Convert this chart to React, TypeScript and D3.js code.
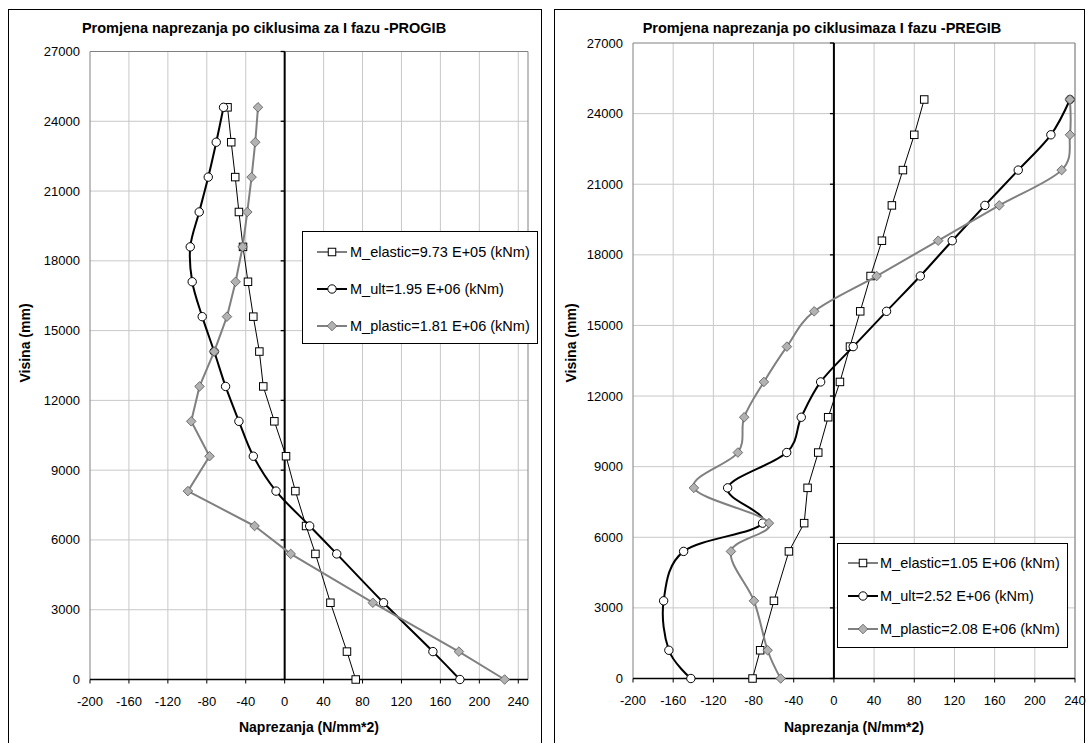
import React from 'react';
import * as d3 from 'd3';

// ---- data ----
const heights = [0, 1200, 3300, 5400, 6600, 8100, 9600, 11100, 12600, 14100, 15600, 17100, 18600, 20100, 21600, 23100, 24600];
const xTicks = [-200, -160, -120, -80, -40, 0, 40, 80, 120, 160, 200, 240];
const yTicks = [0, 3000, 6000, 9000, 12000, 15000, 18000, 21000, 24000, 27000];

const progibElastic = [73, 64, 47, 31.6, 22, 11, 1.4, -10.6, -22, -26, -32.2, -37.7, -42.8, -47, -50.8, -54.9, -58.7];
const progibUlt = [180, 152.3, 101.6, 53.5, 25.7, -8.9, -32.2, -47, -60.7, -72.4, -84.7, -95, -97, -87.8, -78.5, -70.3, -62.8];
const progibPlastic = [226, 179, 90.6, 6.2, -30.9, -99.4, -77.2, -96, -87.5, -72.4, -59.3, -50.4, -43.2, -38.4, -34, -30.2, -27.4];

const pregibElastic = [-81, -73.4, -59.7, -44.8, -29.6, -26.2, -15.6, -5.7, 6, 16, 26.2, 36.5, 47.8, 57.7, 68.7, 80, 89.9];
const pregibUlt = [-142.4, -164.3, -169.5, -149.6, -71, -105.8, -47, -32.5, -13.2, 19.2, 52.4, 86, 117.8, 150.3, 183.5, 216, 235];
const pregibPlastic = [-53, -66, -79.6, -102.5, -64.7, -139.4, -95.6, -89.3, -69.7, -46.8, -19.6, 42.5, 103.8, 164.6, 226.7, 235, 235];

const progibLegend = ['M_elastic=9.73 E+05 (kNm)', 'M_ult=1.95 E+06 (kNm)', 'M_plastic=1.81 E+06 (kNm)'];
const pregibLegend = ['M_elastic=1.05 E+06 (kNm)', 'M_ult=2.52 E+06 (kNm)', 'M_plastic=2.08 E+06 (kNm)'];

const FONT = '"Liberation Sans", Arial, sans-serif';

type Kind = 'square' | 'circle' | 'diamond';

function Marker({ kind, x, y }: { kind: Kind; x: number; y: number }) {
  if (kind === 'square') {
    return <rect x={x - 3.75} y={y - 3.75} width={7.5} height={7.5} fill="#fff" stroke="#000" strokeWidth={1} />;
  }
  if (kind === 'circle') {
    return <circle cx={x} cy={y} r={4.2} fill="#fff" stroke="#000" strokeWidth={1} />;
  }
  const s = 4.8;
  return (
    <path d={`M${x},${y - s}L${x + s},${y}L${x},${y + s}L${x - s},${y}Z`} fill="#b2b2b2" stroke="#555" strokeWidth={0.8} />
  );
}

interface SeriesDef {
  values: number[];
  kind: Kind;
  color: string;
  width: number;
  smooth: boolean;
}

interface ChartProps {
  frameX: number;
  frameW: number;
  left: number;
  right: number;
  top: number;
  bottom: number;
  xMax: number;
  title: string;
  titleX: number;
  yTitleX: number;
  labelRight: number;
  series: SeriesDef[];
  legendLabels: string[];
  legend: { x: number; y: number; w: number; h: number; rows: number[]; sx: number; tx: number };
}

function Chart(p: ChartProps) {
  const x = d3.scaleLinear().domain([-200, p.xMax]).range([p.left, p.right]);
  const y = d3.scaleLinear().domain([0, 27000]).range([p.bottom, p.top]);
  const x0 = x(0);
  return (
    <g fontFamily={FONT}>
      <rect x={p.frameX + 0.5} y={9.5} width={p.frameW} height={745} fill="#fff" stroke="#000" strokeWidth={1} />
      <text x={p.titleX} y={33} textAnchor="middle" fontSize={14.5} fontWeight="bold">{p.title}</text>
      {/* gridlines */}
      {xTicks.filter((t) => t > -200).map((t) => (
        <line key={'gx' + t} x1={x(t)} x2={x(t)} y1={p.top} y2={p.bottom} stroke="#c8c8c8" strokeWidth={1} />
      ))}
      {yTicks.filter((t) => t > 0 && t < 27000).map((t) => (
        <line key={'gy' + t} x1={p.left} x2={p.right} y1={y(t)} y2={y(t)} stroke="#c8c8c8" strokeWidth={1} />
      ))}
      {/* plot border */}
      <path d={`M${p.left},${p.bottom}V${p.top}H${p.right}V${p.bottom}`} fill="none" stroke="#808080" strokeWidth={1} />
      {/* x axis */}
      <line x1={p.left} x2={p.right} y1={p.bottom} y2={p.bottom} stroke="#000" strokeWidth={1.3} />
      {xTicks.map((t) => (
        <g key={'xt' + t}>
          <line x1={x(t)} x2={x(t)} y1={p.bottom} y2={p.bottom + 4} stroke="#000" strokeWidth={1} />
          <text x={x(t)} y={p.bottom + 26} textAnchor="middle" fontSize={13}>{t}</text>
        </g>
      ))}
      {/* y axis at x=0 */}
      <line x1={x0} x2={x0} y1={p.top} y2={p.bottom} stroke="#000" strokeWidth={2} />
      {yTicks.map((t) => (
        <g key={'yt' + t}>
          <line x1={x0 - 4} x2={x0} y1={y(t)} y2={y(t)} stroke="#000" strokeWidth={1.3} />
          <text x={p.labelRight} y={y(t) + 4.5} textAnchor="end" fontSize={13}>{t}</text>
        </g>
      ))}
      <text x={(p.left + p.right) / 2} y={732} textAnchor="middle" fontSize={14} fontWeight="bold">Naprezanja (N/mm*2)</text>
      <text transform={`translate(${p.yTitleX},343) rotate(-90)`} textAnchor="middle" fontSize={14} fontWeight="bold">Visina (mm)</text>
      {/* series */}
      {p.series.map((s, i) => {
        const line = d3
          .line<number>()
          .x((v) => x(v))
          .y((_, j) => y(heights[j]))
          .curve(s.smooth ? d3.curveCardinal.tension(0) : d3.curveLinear);
        return (
          <g key={'s' + i}>
            <path d={line(s.values) || ''} fill="none" stroke={s.color} strokeWidth={s.width} strokeLinejoin="round" />
            {s.values.map((v, j) => (
              <Marker key={j} kind={s.kind} x={x(v)} y={y(heights[j])} />
            ))}
          </g>
        );
      })}
      {/* legend */}
      <rect x={p.legend.x + 0.5} y={p.legend.y + 0.5} width={p.legend.w} height={p.legend.h} fill="#fff" stroke="#000" strokeWidth={1} />
      {p.series.map((s, i) => (
        <g key={'l' + i}>
          <line x1={p.legend.sx} x2={p.legend.sx + 30} y1={p.legend.rows[i]} y2={p.legend.rows[i]} stroke={s.color} strokeWidth={s.width} />
          <Marker kind={s.kind} x={p.legend.sx + 15} y={p.legend.rows[i]} />
          <text x={p.legend.tx} y={p.legend.rows[i] + 5} fontSize={14.5}>{p.legendLabels[i]}</text>
        </g>
      ))}
    </g>
  );
}

export default function App() {
  const progibSeries: SeriesDef[] = [
    { values: progibElastic, kind: 'square', color: '#000', width: 1, smooth: false },
    { values: progibUlt, kind: 'circle', color: '#000', width: 2, smooth: true },
    { values: progibPlastic, kind: 'diamond', color: '#808080', width: 2, smooth: false },
  ];
  const pregibSeries: SeriesDef[] = [
    { values: pregibElastic, kind: 'square', color: '#000', width: 1, smooth: false },
    { values: pregibUlt, kind: 'circle', color: '#000', width: 2, smooth: true },
    { values: pregibPlastic, kind: 'diamond', color: '#808080', width: 2, smooth: true },
  ];
  return (
    <svg width={1088} height={743} style={{ position: 'absolute', left: 0, top: 0, background: '#fff' }}>
      <Chart
        frameX={8}
        frameW={533}
        left={90}
        right={528}
        top={51.5}
        bottom={679.5}
        xMax={250}
        title="Promjena naprezanja po ciklusima za I fazu -PROGIB"
        titleX={264}
        yTitleX={30}
        labelRight={80}
        series={progibSeries}
        legendLabels={progibLegend}
        legend={{ x: 302, y: 231, w: 235, h: 112, rows: [252, 289, 326], sx: 317, tx: 350 }}
      />
      <Chart
        frameX={554}
        frameW={530}
        left={633}
        right={1075}
        top={43}
        bottom={678.5}
        xMax={240}
        title="Promjena naprezanja po ciklusimaza I fazu -PREGIB"
        titleX={822}
        yTitleX={576}
        labelRight={623}
        series={pregibSeries}
        legendLabels={pregibLegend}
        legend={{ x: 837, y: 543, w: 230, h: 104, rows: [563, 596, 629], sx: 848, tx: 880 }}
      />
    </svg>
  );
}
